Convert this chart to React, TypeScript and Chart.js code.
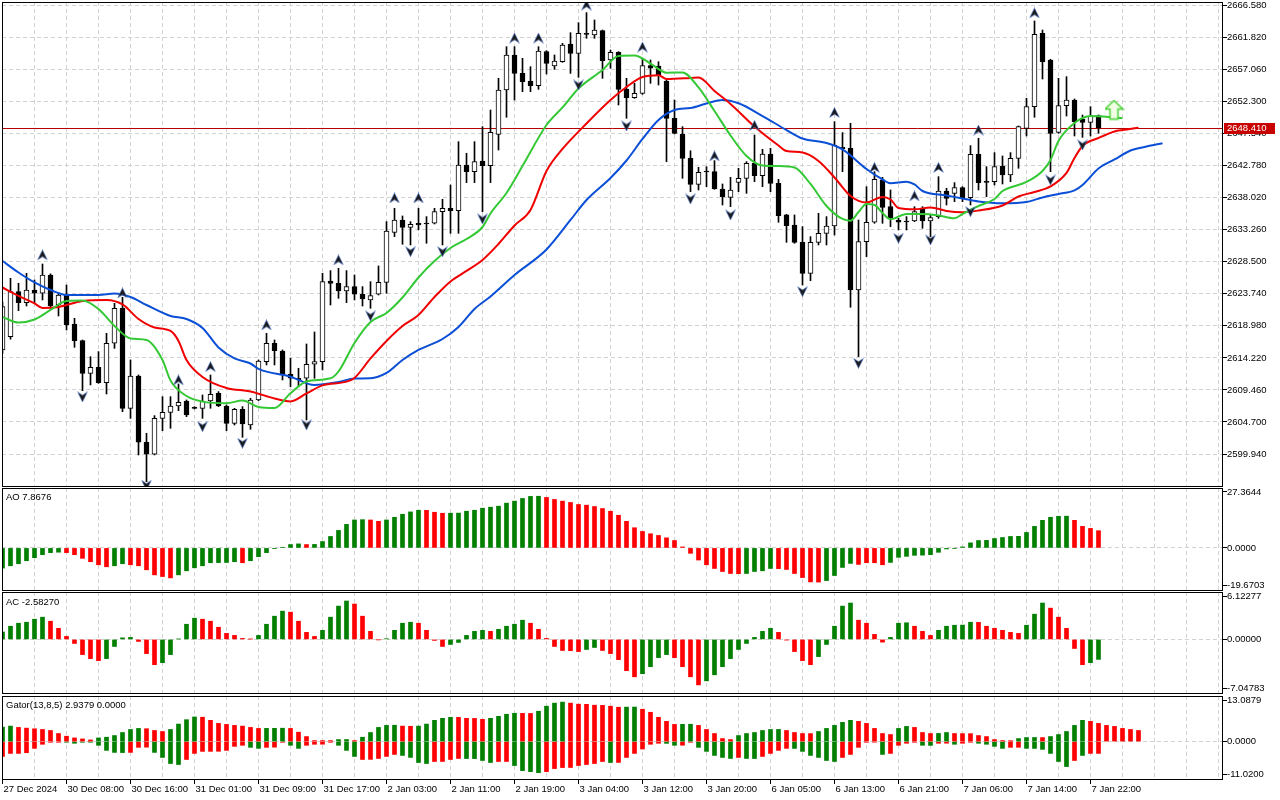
import React, { useEffect, useRef } from "react";
import { Chart, registerables } from "chart.js";

Chart.register(...registerables);

// ---------------- data ----------------
const xTickLabels = [
  "27 Dec 2024", "30 Dec 08:00", "30 Dec 16:00", "31 Dec 01:00", "31 Dec 09:00", "31 Dec 17:00",
  "2 Jan 03:00", "2 Jan 11:00", "2 Jan 19:00", "3 Jan 04:00", "3 Jan 12:00", "3 Jan 20:00",
  "6 Jan 05:00", "6 Jan 13:00", "6 Jan 21:00", "7 Jan 06:00", "7 Jan 14:00", "7 Jan 22:00",
];

const opens = [
  2615.40,2617.38,2624.06,2622.43,2624.31,2623.82,2626.54,2622.08,2623.57,2619.26,
  2616.78,2611.93,2612.82,2610.54,2616.39,2621.59,2606.73,2611.53,2601.68,2599.90,
  2605.24,2606.13,2607.07,2607.82,2606.88,2606.73,2607.82,2608.96,2607.07,2604.50,
  2606.58,2604.26,2607.97,2613.67,2616.39,2615.25,2611.78,2611.19,2611.19,2613.27,
  2613.67,2625.65,2625.30,2624.16,2624.81,2623.67,2622.83,2623.67,2625.45,2632.88,
  2634.71,2633.62,2634.22,2634.22,2634.22,2635.95,2636.45,2636.10,2642.88,2641.89,
  2643.48,2642.79,2647.44,2654.03,2659.22,2656.50,2655.36,2654.67,2659.72,2657.59,
  2658.23,2660.86,2659.47,2662.35,2662.20,2662.84,2658.48,2659.62,2654.12,2652.89,
  2653.53,2657.64,2657.59,2655.36,2649.82,2647.44,2643.87,2640.01,2641.89,2641.89,
  2639.32,2638.08,2640.31,2640.90,2643.13,2641.30,2644.52,2640.16,2635.46,2633.97,
  2631.39,2626.79,2631.39,2632.73,2633.82,2645.51,2645.36,2624.31,2631.49,2634.37,
  2640.66,2636.69,2634.71,2634.56,2634.56,2636.44,2634.56,2635.21,2639.02,2638.67,
  2639.52,2638.03,2644.47,2640.46,2640.41,2642.73,2641.40,2643.87,2648.33,2651.55,
  2662.45,2658.48,2647.74,2651.70,2652.54,2649.72,2649.22,2650.21,
];
const highs = [
  2622.50,2626.04,2625.30,2626.79,2625.80,2628.17,2626.70,2623.92,2625.05,2620.10,
  2616.88,2614.40,2615.15,2617.87,2622.33,2623.22,2613.91,2611.68,2603.02,2605.64,
  2608.46,2608.46,2610.34,2607.97,2606.98,2608.71,2611.68,2609.21,2607.22,2606.73,
  2606.98,2608.22,2613.91,2617.87,2616.88,2615.40,2614.16,2612.68,2616.29,2618.07,
  2626.79,2627.19,2627.53,2627.19,2626.54,2624.81,2625.55,2627.88,2634.47,2636.45,
  2635.31,2634.47,2636.45,2635.21,2636.45,2637.78,2639.91,2646.35,2644.62,2646.35,
  2648.58,2651.05,2655.76,2660.46,2660.46,2658.73,2657.49,2660.46,2659.87,2659.23,
  2660.96,2662.54,2664.03,2665.52,2664.43,2662.94,2659.97,2659.72,2655.76,2655.02,
  2658.73,2658.48,2658.23,2655.51,2652.54,2648.58,2645.00,2642.54,2642.63,2643.53,
  2640.06,2641.05,2642.39,2643.38,2647.34,2645.21,2645.36,2640.75,2635.55,2635.46,
  2633.72,2632.24,2635.70,2635.21,2649.32,2647.69,2649.07,2634.71,2639.66,2641.89,
  2641.05,2639.17,2634.96,2635.21,2636.69,2636.69,2635.45,2641.15,2639.42,2640.26,
  2639.66,2645.76,2646.85,2642.64,2644.72,2644.22,2644.72,2648.68,2652.79,2664.28,
  2662.94,2658.58,2655.76,2656.01,2652.69,2650.31,2651.55,2650.31,
];
const lows = [
  2614.90,2617.00,2621.24,2621.93,2622.33,2622.83,2621.59,2620.45,2618.37,2615.79,
  2609.35,2610.20,2610.44,2608.86,2615.64,2606.23,2605.24,2599.80,2595.83,2599.80,
  2603.41,2603.76,2606.38,2605.49,2606.63,2605.24,2606.73,2606.98,2603.41,2604.25,
  2602.42,2603.61,2607.87,2613.17,2613.17,2610.94,2609.95,2609.95,2605.00,2611.19,
  2612.43,2622.08,2623.07,2622.43,2622.83,2621.93,2621.59,2623.57,2623.82,2632.24,
  2631.10,2631.00,2633.23,2631.25,2634.12,2631.00,2632.73,2632.73,2640.26,2640.26,
  2635.95,2640.26,2645.11,2649.97,2652.54,2653.78,2653.78,2654.12,2656.40,2657.10,
  2658.14,2656.50,2655.91,2661.70,2661.70,2655.76,2657.25,2651.80,2649.82,2652.79,
  2653.38,2655.02,2654.77,2643.38,2647.49,2640.90,2638.92,2639.17,2639.66,2639.27,
  2636.94,2636.69,2638.92,2638.67,2640.41,2639.66,2638.92,2634.37,2631.39,2631.25,
  2625.06,2625.70,2631.00,2631.00,2632.48,2641.89,2621.74,2614.41,2629.27,2634.22,
  2634.22,2633.72,2633.23,2633.23,2634.46,2633.48,2632.24,2634.96,2636.94,2637.44,
  2637.44,2636.94,2639.17,2638.18,2639.91,2640.06,2640.41,2642.39,2647.19,2649.97,
  2655.66,2641.89,2647.59,2650.16,2647.19,2646.99,2647.19,2647.59,
];
const closes = [
  2621.83,2624.06,2622.43,2624.31,2623.82,2626.54,2621.93,2623.57,2619.11,2616.78,
  2611.93,2612.82,2610.54,2616.39,2621.59,2606.73,2611.53,2601.68,2599.90,2605.24,
  2606.13,2607.07,2607.62,2605.74,2606.73,2607.82,2608.81,2607.07,2604.50,2606.58,
  2604.40,2607.97,2613.76,2616.39,2615.30,2611.78,2611.19,2610.94,2613.27,2613.67,
  2625.55,2625.30,2624.16,2624.81,2623.67,2622.98,2623.47,2625.45,2633.08,2634.71,
  2633.62,2634.07,2633.97,2634.12,2635.95,2636.45,2636.10,2642.88,2641.89,2643.38,
  2642.79,2647.74,2654.03,2659.22,2656.50,2655.26,2654.67,2659.82,2657.99,2658.33,
  2660.71,2659.47,2662.45,2662.30,2662.94,2658.38,2659.62,2654.12,2652.89,2653.53,
  2657.64,2657.25,2656.25,2649.82,2647.59,2643.87,2640.01,2641.79,2641.84,2639.32,
  2638.18,2639.17,2640.90,2643.13,2641.30,2644.52,2640.16,2635.36,2633.87,2631.39,
  2626.79,2631.39,2632.73,2633.82,2645.85,2645.31,2624.31,2631.49,2634.37,2640.75,
  2636.59,2634.86,2634.37,2634.41,2635.95,2634.56,2635.06,2639.02,2637.93,2639.52,
  2638.03,2644.47,2640.26,2640.31,2642.64,2641.40,2643.87,2648.58,2651.55,2662.30,
  2658.23,2647.59,2651.70,2652.54,2649.32,2649.22,2650.16,2648.41,
];

// Alligator (jaw / teeth / lips)
const jawBars = [0,2,4,6,8,12,14,16,18,21,23,25,27,29,31,32,36,39,42,44,46,48,50,52,55,57,59,61,64,68,71,73,76,78,80,82,84,86,88,90,92,95,98,100,103,105,108,110,111,113,114,115,118,120,122,125,128,130,132,134,135,137,139,141,143,145];
const jawVals = [2628.62,2626.91,2625.43,2624.31,2623.57,2623.57,2623.79,2623.27,2622.08,2620.45,2620.00,2618.67,2615.77,2614.14,2613.39,2612.58,2611.43,2610.20,2610.64,2611.16,2611.19,2611.98,2613.91,2615.40,2617.03,2618.82,2621.49,2623.35,2626.54,2630.33,2634.71,2637.68,2640.95,2643.55,2646.75,2649.57,2651.05,2651.35,2652.02,2652.54,2652.05,2650.16,2648.08,2646.82,2646.15,2645.19,2642.29,2640.73,2640.16,2640.40,2639.99,2639.02,2638.35,2637.91,2637.46,2637.19,2637.39,2638.06,2638.58,2639.10,2639.91,2642.36,2643.70,2645.04,2645.63,2646.11];
const teethBars = [0,2,4,5,7,10,13,15,17,19,21,22,23,25,28,31,34,36,38,40,43,44,46,48,50,52,54,56,58,60,62,64,66,68,70,73,76,78,80,82,83,86,87,89,91,94,97,98,100,102,104,106,108,110,111,112,114,116,118,120,122,125,127,129,131,133,134,135,137,139,140,142];
const teethVals = [2624.68,2623.42,2622.31,2621.64,2621.79,2622.68,2622.83,2622.16,2620.00,2618.74,2618.22,2616.74,2613.91,2611.39,2609.75,2609.23,2608.19,2607.75,2608.94,2610.13,2610.69,2611.24,2614.14,2616.74,2618.96,2620.60,2623.27,2625.58,2627.14,2628.77,2631.15,2633.90,2636.20,2641.99,2645.26,2649.05,2652.54,2654.47,2655.96,2656.21,2655.66,2655.81,2655.88,2653.88,2651.95,2648.60,2645.78,2644.96,2644.74,2643.48,2641.03,2638.28,2637.31,2638.13,2637.76,2636.50,2636.30,2636.57,2636.05,2635.86,2636.12,2636.87,2638.20,2638.87,2639.69,2641.70,2643.92,2645.71,2646.89,2647.86,2648.08,2648.43];
const lipsBars = [0,2,4,6,8,10,12,14,16,18,20,21,23,25,28,30,32,34,36,38,41,42,44,46,48,50,52,54,56,58,60,61,63,65,68,70,72,75,77,79,81,83,85,87,89,91,93,95,97,99,101,103,105,106,107,108,109,110,111,113,115,117,119,120,122,124,125,128,130,131,132,134,136,138,140];
const lipsVals = [2620.30,2619.48,2619.93,2621.34,2622.68,2622.75,2621.49,2618.96,2617.11,2616.88,2613.91,2610.87,2608.56,2607.72,2607.48,2607.90,2606.93,2606.78,2608.97,2610.72,2611.19,2612.20,2616.44,2619.56,2620.90,2623.20,2626.17,2628.62,2630.55,2631.89,2633.67,2635.68,2638.72,2642.73,2648.83,2651.43,2654.25,2657.00,2659.08,2659.15,2657.96,2656.60,2656.63,2654.40,2650.91,2647.27,2644.22,2642.81,2642.73,2642.51,2640.06,2636.79,2634.86,2634.61,2635.90,2637.09,2636.94,2635.75,2634.82,2635.60,2635.60,2635.38,2634.97,2635.60,2636.79,2637.83,2639.02,2640.36,2641.99,2643.63,2646.45,2649.12,2650.16,2650.06,2649.82];

// Fractals
const fractalUpBars = [5,15,22,26,33,42,49,52,64,67,73,80,89,94,104,109,114,117,122,129];
const fractalUpVals = [2629.51,2623.87,2610.94,2612.92,2619.11,2628.77,2637.98,2637.98,2661.75,2661.75,2666.65,2660.41,2644.22,2648.75,2650.68,2642.51,2638.28,2642.51,2648.08,2665.47];
const fractalDownBars = [10,18,25,30,38,46,51,55,60,72,78,86,91,100,107,112,116,121,131,135];
const fractalDownVals = [2608.42,2595.30,2604.00,2601.54,2604.26,2620.45,2630.00,2630.00,2634.86,2654.77,2648.68,2637.83,2635.46,2624.06,2613.42,2631.99,2631.74,2635.95,2640.66,2645.86];

// Signal arrow
const signalBars = [139];
const signalVals = [2651.05];

const bidPrice = 2648.41;
const mainTicks = [2599.94,2604.70,2609.46,2614.22,2618.98,2623.74,2628.50,2633.26,2638.02,2642.78,2647.54,2652.30,2657.06,2661.82,2666.58];

// AO
const aoValues = [
  -9.22,-8.15,-7.22,-5.84,-4.46,-3.07,-2.15,-1.95,-2.15,-3.07,
  -4.76,-6.30,-7.69,-8.61,-8.15,-7.22,-7.69,-8.15,-9.99,-12.30,
  -13.07,-13.68,-12.30,-10.45,-9.07,-8.15,-6.76,-6.70,-6.65,-6.30,
  -6.76,-5.84,-4.00,-2.15,-0.31,0.30,1.54,1.84,1.54,1.60,
  2.92,5.23,7.99,10.76,12.76,12.91,12.76,12.14,12.76,13.99,
  15.37,16.45,17.21,17.15,16.29,15.83,15.85,15.90,16.75,17.21,
  18.14,18.60,19.06,20.44,21.36,22.59,23.52,23.60,23.06,22.13,
  21.36,20.75,19.83,19.52,18.91,17.98,16.75,14.91,12.14,9.22,
  7.53,6.46,5.69,4.61,3.38,0.46,-2.46,-5.53,-7.69,-9.38,
  -10.76,-11.68,-11.75,-11.68,-10.76,-10.45,-9.38,-9.45,-9.84,-11.68,
  -13.53,-15.52,-15.60,-14.91,-12.60,-8.91,-7.07,-7.53,-6.76,-6.76,
  -7.69,-6.61,-4.30,-3.84,-3.38,-3.30,-3.07,-2.00,-0.46,-0.15,
  0.46,2.31,3.38,3.45,4.30,4.76,5.23,5.30,7.07,9.84,
  12.60,13.99,14.45,14.50,12.60,9.84,8.91,7.87,
];
const aoColorRuns = "8g 6r 2g 6r 8g 1r 7g 1r 7g 2r 5g 3r 12g 25r 4g 6r 4g 4r 23g 4r";

// AC
const acValues = [
  0.96,1.70,2.09,2.22,2.61,2.87,2.35,1.43,0.39,-0.52,
  -1.96,-2.48,-2.74,-2.48,-0.91,0.20,0.26,-0.26,-1.83,-3.26,
  -3.00,-1.96,0.05,1.96,2.74,2.61,2.35,1.57,0.78,0.52,
  0.13,0.04,0.52,1.96,3.00,3.65,3.52,2.35,0.91,0.39,
  1.17,2.87,4.30,4.96,4.57,3.00,1.04,-0.04,0.09,1.17,
  2.09,2.22,2.09,1.17,-0.13,-0.91,-0.65,-0.39,0.52,1.04,
  1.17,1.04,1.30,1.70,1.96,2.48,2.09,1.30,0.13,-0.91,
  -1.43,-1.45,-1.57,-1.30,-1.04,-1.43,-1.83,-2.61,-4.04,-4.83,
  -4.43,-3.52,-2.35,-1.96,-2.35,-3.52,-4.83,-5.87,-5.35,-4.57,
  -3.52,-2.48,-1.30,-0.52,0.26,1.04,1.43,0.91,-0.09,-1.57,
  -2.74,-3.26,-2.22,-0.65,1.70,4.30,4.70,2.48,2.09,0.65,
  -0.35,0.26,2.09,2.15,1.70,1.04,0.52,1.17,1.70,1.83,
  1.85,2.22,2.20,1.70,1.43,1.17,0.91,0.78,1.83,3.26,
  4.70,4.04,2.87,1.43,-1.17,-3.26,-3.00,-2.58,
];
const acColorRuns = "6g 7r 4g 3r 5g 7r 4g 4r 4g 4r 4g 4r 5g 1r 4g 7r 2g 5r 4g 4r 9g 5r 5g 4r 3g 3r 5g 6r 3g 5r 2g";

// Gator
const gatorUpper = [
  4.16,4.45,4.07,3.87,3.68,3.48,3.19,2.32,1.55,1.06,
  0.77,0.48,1.06,1.26,1.74,2.61,3.48,3.78,3.70,3.19,
  2.90,3.48,5.03,6.29,7.07,7.00,6.10,5.23,4.94,4.65,
  4.45,4.07,3.78,3.80,3.82,3.85,3.78,2.71,1.45,0.29,
  0.29,0.29,0.58,0.60,0.29,1.26,2.61,4.07,4.65,4.70,
  4.45,4.40,4.45,5.03,6.10,6.68,6.97,6.95,6.68,6.65,
  6.39,6.68,7.26,7.84,8.13,8.10,8.08,8.71,10.16,11.04,
  11.33,11.04,10.75,10.70,10.45,10.40,10.16,9.87,9.90,9.92,
  9.29,8.42,6.97,5.81,4.94,4.96,4.98,4.65,3.48,2.32,
  0.87,0.58,1.74,2.32,2.61,3.19,3.48,3.50,3.19,2.61,
  2.32,2.30,2.90,3.78,4.65,5.52,6.10,5.81,5.23,3.78,
  2.32,2.03,3.78,4.36,4.07,2.61,2.32,2.35,2.61,2.32,
  2.30,2.28,1.74,1.45,0.58,0.29,0.27,0.87,1.16,1.18,
  1.16,1.45,2.03,2.90,4.65,6.10,5.81,5.23,4.65,4.36,
  3.78,3.48,3.19,
];
const gatorUpperRuns = "2g 10r 6g 3r 4g 8r 3g 6r 2g 1r 5g 2r 5g 4r 4g 2r 4g 7r 2g 5r 2g 5r 6g 4r 5g 5r 2g 3r 2g 8r 3g 1r 5g 7r";
const gatorLower = [
  -4.26,-3.39,-3.39,-3.19,-1.94,-0.77,-0.19,-0.19,-0.19,-0.48,
  -0.19,-0.19,-1.06,-2.52,-3.10,-3.15,-3.10,-1.65,-1.60,-3.10,
  -4.55,-6.29,-6.58,-5.13,-3.39,-2.81,-2.80,-2.78,-2.52,-1.36,
  -1.06,-1.65,-1.94,-1.65,-1.60,-0.19,-1.06,-1.94,-1.06,-0.77,
  -0.75,-0.19,-1.06,-2.52,-4.26,-5.13,-5.10,-4.84,-4.26,-3.68,
  -3.97,-4.55,-6.00,-6.29,-5.71,-5.70,-5.13,-4.84,-4.86,-4.88,
  -5.42,-6.00,-5.71,-5.70,-6.87,-8.33,-8.62,-8.91,-8.62,-7.74,
  -7.45,-7.43,-6.87,-6.58,-6.29,-5.71,-6.00,-5.98,-4.55,-3.39,
  -2.13,-0.77,-0.48,-0.50,-1.06,-1.04,-0.19,-1.65,-2.81,-3.97,
  -4.55,-4.84,-4.55,-4.84,-4.86,-4.26,-3.39,-2.52,-1.94,-1.96,
  -2.81,-3.97,-4.55,-5.42,-5.71,-4.55,-3.68,-1.65,-0.19,-0.17,
  -3.68,-3.39,-1.06,-0.48,-0.19,-1.06,-1.08,-0.48,-0.46,-0.77,
  -0.48,-0.19,-0.48,-0.77,-1.36,-1.94,-1.65,-1.63,-1.94,-1.96,
  -2.23,-3.39,-5.71,-7.16,-5.42,-3.97,-3.39,-3.39,
];
const gatorLowerRuns = "8r 8g 3r 4g 8r 2g 3r 2g 4r 3g 5r 4g 4r 4g 2r 4g 8r 1g 6r 2g 2r 5g 1r 2g 4r 6g 5r 1g 4r 2g 2r 1g 2r 4g 2r 6g 1r 1g 2r";

const aoRange: [number, number] = [-19.6703, 27.3644];
const acRange: [number, number] = [-7.04783, 6.12277];
const gatorRange: [number, number] = [-11.02, 13.0879];
const aoTitle = "AO 7.8676";
const acTitle = "AC -2.58270";
const gatorTitle = "Gator(13,8,5) 2.9379 0.0000";

// ---------------- styling / layout ----------------
const W = 1280;
const AXIS_W = 57;
const LEFT = 2;
const BAR_PX = 8;
const X_MIN = -0.0625;
const X_MAX = X_MIN + (W - AXIS_W - LEFT) / BAR_PX;
const MAIN_MAX = 2667.1;
const MAIN_MIN = 2595.037;
const GRID = "#d2d2d2";
const GREEN = "#008000";
const RED = "#ff0000";
const FONT_FAMILY = "'Liberation Sans', Arial, sans-serif";
const FONT = { family: FONT_FAMILY, size: 9.5 };

function expandRuns(runs: string): string[] {
  const out: string[] = [];
  runs.trim().split(/\s+/).forEach((tok) => {
    const n = parseInt(tok, 10);
    const c = tok.slice(-1) === "g" ? GREEN : RED;
    for (let k = 0; k < n; k++) out.push(c);
  });
  return out;
}

const framePlugin = {
  id: "frame",
  afterDraw(chart: any) {
    const { ctx, chartArea: a } = chart;
    ctx.save();
    ctx.strokeStyle = "#000";
    ctx.lineWidth = 1;
    ctx.strokeRect(a.left + 0.5, a.top + 0.5, a.right - a.left - 1, a.bottom - a.top - 1);
    ctx.restore();
  },
};

// bid line (behind the candles) and its price tag on the axis
const priceTagPlugin = {
  id: "priceTag",
  beforeDatasetsDraw(chart: any) {
    const a = chart.chartArea;
    const y = Math.round(chart.scales.y.getPixelForValue(bidPrice)) + 0.5;
    const ctx = chart.ctx;
    ctx.save();
    ctx.strokeStyle = "#b40000";
    ctx.lineWidth = 1;
    ctx.beginPath();
    ctx.moveTo(a.left, y);
    ctx.lineTo(a.right, y);
    ctx.stroke();
    ctx.restore();
  },
  afterDraw(chart: any) {
    const y = Math.round(chart.scales.y.getPixelForValue(bidPrice));
    const x = chart.chartArea.right + 1;
    const ctx = chart.ctx;
    ctx.save();
    ctx.fillStyle = "#c80000";
    ctx.fillRect(x, y - 5, 51, 11);
    ctx.fillStyle = "#ffffff";
    ctx.font = `9.5px ${FONT_FAMILY}`;
    ctx.textBaseline = "middle";
    ctx.fillText(bidPrice.toFixed(3), x + 3, y + 0.5);
    ctx.restore();
  },
};

function zeroPad(s: any) {
  s.paddingTop = 0;
  s.paddingBottom = 0;
  s.paddingLeft = 0;
  s.paddingRight = 0;
}

function xScale(showLabels: boolean) {
  return {
    type: "linear",
    offset: false,
    min: X_MIN,
    max: X_MAX,
    afterBuildTicks: (s: any) => {
      const t: any[] = [];
      for (let v = 0; v <= 152; v += 4) t.push({ value: v });
      s.ticks = t;
    },
    afterFit: (s: any) => {
      s.height = showLabels ? 20 : 0;
      zeroPad(s);
    },
    border: { display: false, dash: [4, 3] },
    grid: {
      offset: false,
      color: GRID,
      lineWidth: 1,
      drawTicks: showLabels,
      tickLength: 4,
      tickBorderDash: [],
      tickColor: (c: any) =>
        c.tick && c.tick.value % 8 === 0 && c.tick.value / 8 < xTickLabels.length ? "#000" : "rgba(0,0,0,0)",
    },
    ticks: {
      display: showLabels,
      autoSkip: false,
      maxRotation: 0,
      minRotation: 0,
      align: "start",
      labelOffset: 1,
      padding: 0,
      color: "#000",
      font: FONT,
      callback: (v: any) => {
        const n = Number(v);
        return n % 8 === 0 && xTickLabels[n / 8] ? xTickLabels[n / 8] : "";
      },
    },
  };
}

function subY(range: [number, number], heightPx: number, decimals: number) {
  const [min, max] = range;
  const upp = (max - min) / heightPx;
  return {
    type: "linear",
    position: "right",
    min,
    max,
    afterBuildTicks: (s: any) => {
      s.ticks = [{ value: min + 6 * upp }, { value: 0 }, { value: max - 4 * upp }];
    },
    afterFit: (s: any) => {
      s.width = AXIS_W;
      zeroPad(s);
    },
    border: { display: false, dash: [4, 3] },
    grid: {
      color: (c: any) => (c.tick && c.tick.value === 0 ? GRID : "rgba(0,0,0,0)"),
      tickColor: "#000",
      tickLength: 4,
      tickBorderDash: [],
    },
    ticks: {
      autoSkip: false,
      padding: 0,
      color: "#000",
      font: FONT,
      callback: (_v: any, i: number) => (i === 0 ? min : i === 1 ? 0 : max).toFixed(decimals),
    },
  };
}

const baseOptions = (padTop: number) => ({
  responsive: false,
  animation: false,
  events: [],
  layout: { autoPadding: false, padding: { left: LEFT, top: padTop, right: 0, bottom: 0 } },
  plugins: { legend: { display: false }, tooltip: { enabled: false } },
});

function makeFractal(up: boolean) {
  const c = document.createElement("canvas");
  c.width = 11;
  c.height = 11;
  const g = c.getContext("2d")!;
  g.beginPath();
  if (up) {
    g.moveTo(5.5, 0.5);
    g.lineTo(10.3, 10.3);
    g.lineTo(5.5, 7.2);
    g.lineTo(0.7, 10.3);
  } else {
    g.moveTo(5.5, 10.5);
    g.lineTo(10.3, 0.7);
    g.lineTo(5.5, 3.8);
    g.lineTo(0.7, 0.7);
  }
  g.closePath();
  g.fillStyle = "#1a1a1a";
  g.fill();
  g.strokeStyle = "rgba(80,120,210,0.75)";
  g.lineWidth = 0.8;
  g.stroke();
  return c;
}

function makeSignalArrow() {
  const c = document.createElement("canvas");
  c.width = 20;
  c.height = 21;
  const g = c.getContext("2d")!;
  g.beginPath();
  g.moveTo(9.5, 1);
  g.lineTo(18.5, 9.5);
  g.lineTo(13.5, 9.5);
  g.lineTo(13.5, 19.5);
  g.lineTo(5.5, 19.5);
  g.lineTo(5.5, 9.5);
  g.lineTo(0.5, 9.5);
  g.closePath();
  g.fillStyle = "#f2ffe6";
  g.fill();
  g.strokeStyle = "#48cf34";
  g.lineWidth = 1.5;
  g.stroke();
  return c;
}

function lineDS(bars: number[], vals: number[], color: string, order: number) {
  return {
    type: "line",
    data: bars.map((b, i) => ({ x: b, y: vals[i] })),
    borderColor: color,
    borderWidth: 2,
    pointRadius: 0,
    cubicInterpolationMode: "monotone",
    fill: false,
    order,
  };
}

function buildMain(): any {
  const idx = opens.map((_, i) => i);
  return {
    type: "bar",
    data: {
      datasets: [
        {
          type: "bar",
          data: idx.map((i) => ({ x: i, y: [lows[i], highs[i]] })),
          backgroundColor: "#000",
          borderWidth: 0,
          barThickness: 1,
          grouped: false,
          order: 8,
        },
        {
          type: "bar",
          data: idx.map((i) => ({ x: i, y: [opens[i], closes[i]] })),
          backgroundColor: idx.map((i) => (closes[i] >= opens[i] ? "#ffffff" : "#000000")),
          borderColor: "#000",
          borderWidth: 1,
          borderSkipped: false,
          barThickness: 5,
          minBarLength: 1,
          grouped: false,
          order: 7,
        },
        lineDS(jawBars, jawVals, "#0b4fd6", 4),
        lineDS(teethBars, teethVals, "#f00000", 3),
        lineDS(lipsBars, lipsVals, "#35c835", 2),
        {
          type: "line",
          data: fractalUpBars.map((b, i) => ({ x: b, y: fractalUpVals[i] })),
          showLine: false,
          pointStyle: makeFractal(true),
          pointRadius: 5,
          order: 1,
        },
        {
          type: "line",
          data: fractalDownBars.map((b, i) => ({ x: b, y: fractalDownVals[i] })),
          showLine: false,
          pointStyle: makeFractal(false),
          pointRadius: 5,
          order: 1,
        },
        {
          type: "line",
          data: signalBars.map((b, i) => ({ x: b, y: signalVals[i] })),
          showLine: false,
          pointStyle: makeSignalArrow(),
          pointRadius: 8,
          order: 0,
        },
      ],
    },
    options: {
      ...baseOptions(2),
      scales: {
        x: xScale(false),
        y: {
          type: "linear",
          position: "right",
          min: MAIN_MIN,
          max: MAIN_MAX,
          afterBuildTicks: (s: any) => {
            s.ticks = mainTicks.map((v) => ({ value: v }));
          },
          afterFit: (s: any) => {
            s.width = AXIS_W;
            zeroPad(s);
          },
          border: { display: false, dash: [4, 3] },
          grid: { color: GRID, tickColor: "#000", tickLength: 4, tickBorderDash: [] },
          ticks: {
            autoSkip: false,
            padding: 0,
            color: "#000",
            font: FONT,
            callback: (v: any) => Number(v).toFixed(3),
          },
        },
      },
    },
    plugins: [framePlugin, priceTagPlugin],
  };
}

function histDS(values: number[], runs: string) {
  return {
    type: "bar",
    data: values.map((v, i) => ({ x: i, y: v })),
    backgroundColor: expandRuns(runs),
    borderWidth: 0,
    barThickness: 4,
    grouped: false,
  };
}

function buildAO(): any {
  return {
    type: "bar",
    data: { datasets: [histDS(aoValues, aoColorRuns)] },
    options: { ...baseOptions(1), scales: { x: xScale(false), y: subY(aoRange, 103, 4) } },
    plugins: [framePlugin],
  };
}

function buildAC(): any {
  return {
    type: "bar",
    data: { datasets: [histDS(acValues, acColorRuns)] },
    options: { ...baseOptions(1), scales: { x: xScale(false), y: subY(acRange, 102, 5) } },
    plugins: [framePlugin],
  };
}

function buildGator(): any {
  return {
    type: "bar",
    data: { datasets: [histDS(gatorUpper, gatorUpperRuns), histDS(gatorLower, gatorLowerRuns)] },
    options: { ...baseOptions(2), scales: { x: xScale(true), y: subY(gatorRange, 84, 4) } },
    plugins: [framePlugin],
  };
}

function Panel({ top, height, build }: { top: number; height: number; build: () => any }) {
  const ref = useRef<HTMLCanvasElement>(null);
  useEffect(() => {
    const chart = new Chart(ref.current as HTMLCanvasElement, build());
    return () => chart.destroy();
  }, []);
  return (
    <canvas
      ref={ref}
      width={W}
      height={height}
      style={{ position: "absolute", left: 0, top, width: W, height, display: "block" }}
    />
  );
}

const titleStyle = (top: number): React.CSSProperties => ({
  position: "absolute",
  left: 6,
  top,
  font: `9.5px ${FONT_FAMILY}`,
  lineHeight: "11px",
  color: "#000",
  whiteSpace: "nowrap",
});

export default function App() {
  return (
    <div
      style={{
        position: "fixed",
        left: 0,
        top: 0,
        width: W,
        height: 800,
        background: "#ffffff",
        overflow: "hidden",
      }}
    >
      <Panel top={0} height={487} build={buildMain} />
      <Panel top={487} height={104} build={buildAO} />
      <Panel top={591} height={103} build={buildAC} />
      <Panel top={694} height={106} build={buildGator} />
      <div style={titleStyle(491)}>{aoTitle}</div>
      <div style={titleStyle(596)}>{acTitle}</div>
      <div style={titleStyle(699)}>{gatorTitle}</div>
    </div>
  );
}
